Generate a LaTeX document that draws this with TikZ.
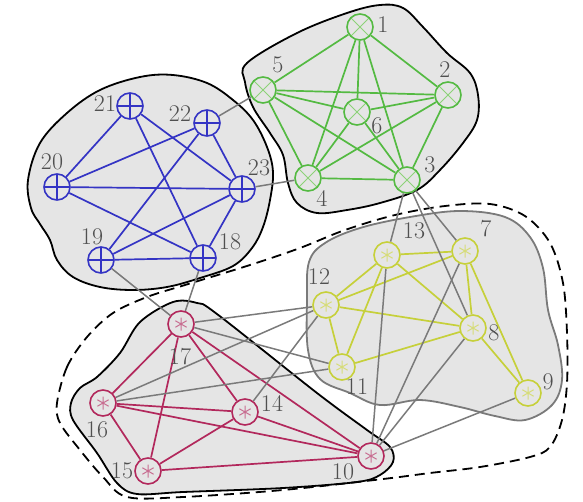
\documentclass[tikz,border=0pt]{standalone}
\definecolor{blobfill}{RGB}{229,229,229}
\definecolor{gline}{RGB}{84,186,66}
\definecolor{gcross}{RGB}{140,210,120}
\definecolor{bline}{RGB}{52,52,196}
\definecolor{yline}{RGB}{198,208,58}
\definecolor{ystar}{RGB}{214,220,120}
\definecolor{rline}{RGB}{178,40,92}
\definecolor{rstar}{RGB}{200,110,145}
\definecolor{linkgray}{RGB}{122,122,122}
\definecolor{labgray}{RGB}{80,80,80}
\pgfdeclarelayer{blobs}
\pgfdeclarelayer{links}
\pgfsetlayers{blobs,links,main}
\tikzset{
  vtx/.style={circle, draw, line width=1.6pt, minimum size=26pt, inner sep=0pt, fill=blobfill},
  times/.style={vtx, draw=gline, path picture={
      \draw[gcross, line width=1pt]
        (path picture bounding box.north west) -- (path picture bounding box.south east)
        (path picture bounding box.north east) -- (path picture bounding box.south west);}},
  plus/.style={vtx, draw=bline, path picture={
      \draw[bline, line width=1.2pt]
        (path picture bounding box.north) -- (path picture bounding box.south)
        (path picture bounding box.west) -- (path picture bounding box.east);}},
  astnode/.style={vtx, draw=#1line, path picture={
      \draw[#1star, line width=1pt]
        ([shift={(90:6.5pt)}]path picture bounding box.center) -- ([shift={(270:6.5pt)}]path picture bounding box.center)
        ([shift={(30:6.5pt)}]path picture bounding box.center) -- ([shift={(210:6.5pt)}]path picture bounding box.center)
        ([shift={(150:6.5pt)}]path picture bounding box.center) -- ([shift={(330:6.5pt)}]path picture bounding box.center);}},
  lab/.style={text=labgray, font=\fontsize{24}{24}\selectfont, inner sep=0pt},
  gedge/.style={gline, line width=1.7pt},
  bedge/.style={bline, line width=1.7pt},
  yedge/.style={yline, line width=1.7pt},
  redge/.style={rline, line width=1.7pt},
  link/.style={linkgray, line width=1.5pt},
  blob/.style={fill=blobfill, draw=black, line width=1.8pt},
}
\begin{document}
\begin{tikzpicture}[x=1pt, y=-1pt]
\useasboundingbox (0,0) rectangle (583,501);

% green cluster
\node[times] (n1) at (360,27) {};
\node[times] (n2) at (448,95) {};
\node[times] (n3) at (407,180) {};
\node[times] (n4) at (308,178) {};
\node[times] (n5) at (263,90) {};
\node[times] (n6) at (357,112) {};
% blue cluster
\node[plus] (n21) at (130,106) {};
\node[plus] (n22) at (207,123) {};
\node[plus] (n20) at (57,187) {};
\node[plus] (n23) at (242,189) {};
\node[plus] (n19) at (101,260) {};
\node[plus] (n18) at (203,258) {};
% yellow cluster
\node[astnode=y] (n13) at (387,255) {};
\node[astnode=y] (n7) at (465,251) {};
\node[astnode=y] (n12) at (326,305) {};
\node[astnode=y] (n8) at (473,328) {};
\node[astnode=y] (n11) at (342,367) {};
\node[astnode=y] (n9) at (528,393) {};
% red cluster
\node[astnode=r] (n17) at (181,324) {};
\node[astnode=r] (n16) at (103,403) {};
\node[astnode=r] (n14) at (245,412) {};
\node[astnode=r] (n15) at (148,471) {};
\node[astnode=r] (n10) at (371,456) {};

% vertex labels
\node[lab] (l1) at (383,25) {1};
\node[lab] (l2) at (445,70) {2};
\node[lab] (l3) at (430,165) {3};
\node[lab] (l4) at (322,198) {4};
\node[lab] (l5) at (278,65) {5};
\node[lab] (l6) at (377,126) {6};
\node[lab] (l21) at (105,104) {21};
\node[lab] (l22) at (180,114) {22};
\node[lab] (l20) at (52,162) {20};
\node[lab] (l23) at (259,168) {23};
\node[lab] (l19) at (92,237) {19};
\node[lab] (l18) at (230,242) {18};
\node[lab] (l13) at (414,231) {13};
\node[lab] (l7) at (486,229) {7};
\node[lab] (l12) at (319,277) {12};
\node[lab] (l8) at (494,333) {8};
\node[lab] (l11) at (357,387) {11};
\node[lab] (l9) at (548,382) {9};
\node[lab] (l17) at (180,357) {17};
\node[lab] (l14) at (272,403) {14};
\node[lab] (l16) at (97,430) {16};
\node[lab] (l15) at (122,471) {15};
\node[lab] (l10) at (343,472) {10};

\begin{pgfonlayer}{links}
  \foreach \a/\b in {1/2,1/3,1/4,1/5,1/6,2/3,2/4,2/5,2/6,3/4,3/5,3/6,4/5,4/6,5/6}
    \draw[gedge] (n\a) -- (n\b);
  \foreach \a/\b in {21/20,21/23,21/18,22/20,22/19,22/23,20/23,20/18,19/23,19/18,18/23}
    \draw[bedge] (n\a) -- (n\b);
  \foreach \a/\b in {13/7,13/12,13/11,13/8,7/12,7/8,7/9,12/8,12/11,11/8,8/9}
    \draw[yedge] (n\a) -- (n\b);
  \foreach \a/\b in {17/16,17/15,17/14,17/10,16/14,16/10,16/15,15/14,15/10,14/10}
    \draw[redge] (n\a) -- (n\b);
  \foreach \a/\b in {5/22,23/4,3/13,3/8,3/7,19/17,18/17,17/12,17/11,16/12,16/11,14/12,10/13,10/7,10/8,10/9}
    \draw[link] (n\a) -- (n\b);
\end{pgfonlayer}

\begin{pgfonlayer}{blobs}
  % green region
  \draw[blob] plot[smooth cycle, tension=0.6] coordinates {
    (247,63) (297,33) (347,13) (380,5) (403,8) (423,27) (447,53) (470,73)
    (478,95) (477,120) (463,143) (440,170) (417,190) (380,203) (347,210)
    (317,213) (297,203) (288,183) (283,155) (270,133) (253,107) (245,82)};
  % blue region
  \draw[blob] plot[smooth cycle, tension=0.6] coordinates {
    (28,180) (40,143) (67,113) (100,90) (140,77) (173,75) (207,83) (233,100)
    (253,120) (267,147) (273,172) (270,200) (263,227) (252,248) (233,266)
    (200,278) (167,287) (133,290) (100,287) (73,277) (57,260) (50,240)
    (40,224) (31,208)};
  % yellow region
  \draw[blob, draw=linkgray] plot[smooth cycle, tension=0.6] coordinates {
    (307,300) (309,262) (325,243) (360,228) (410,217) (460,211) (505,217)
    (530,237) (543,268) (548,310) (558,345) (562,380) (552,405) (525,420)
    (495,416) (460,407) (420,400) (380,405) (350,393) (320,379) (308,350)};
  % red region
  \draw[blob] plot[smooth cycle, tension=0.55] coordinates {
    (173,302) (197,303) (217,314) (317,393) (367,430) (390,447)
    (393,462) (380,475) (357,482) (283,488) (183,492) (137,494)
    (117,483) (97,453) (73,420) (71,403) (80,388) (97,377) (120,353) (140,322)};
  % dashed outline around the two lower regions
  \draw[black, line width=1.8pt, dash pattern=on 10pt off 6pt] plot[smooth cycle, tension=0.55] coordinates {
    (57,403) (67,367) (87,337) (113,313) (147,297) (185,285) (250,265)
    (300,248) (345,230) (395,215) (445,206) (490,204) (525,216) (550,243)
    (563,283) (567,333) (567,383) (562,420) (550,447) (530,457) (480,467)
    (430,473) (383,479) (283,490) (183,497) (127,497) (103,477) (80,450) (60,423)};
\end{pgfonlayer}
\end{tikzpicture}
\end{document}
